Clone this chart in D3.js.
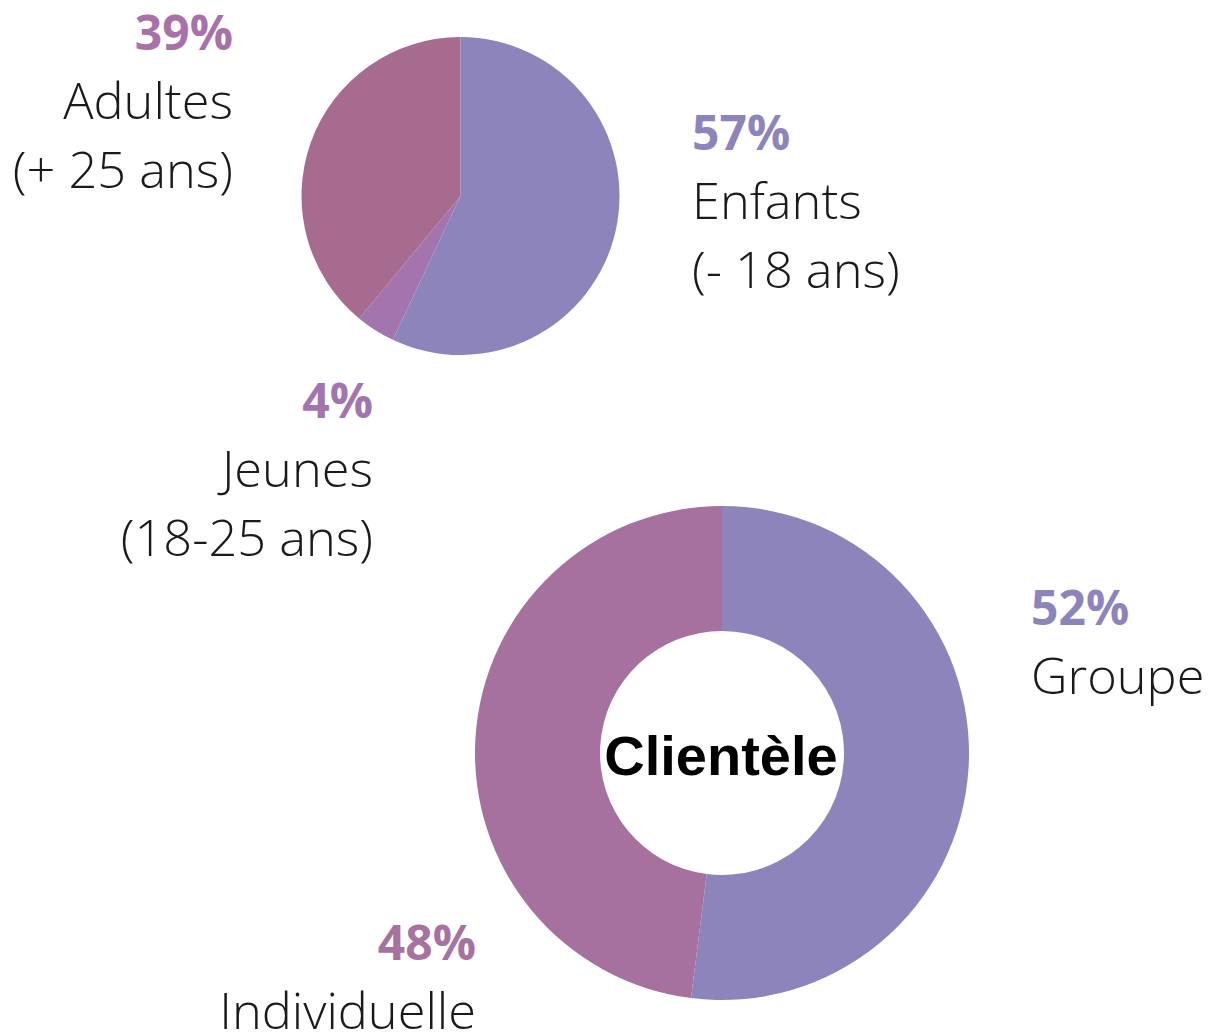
<!DOCTYPE html>
<html>
<head>
<meta charset="utf-8">
<script src="https://cdn.jsdelivr.net/npm/d3@7"></script>
<style>
  html, body { margin: 0; padding: 0; background: #fff; }
  svg { display: block; }
  .pct { font-family: "Open Sans", sans-serif; font-weight: 700; }
  .lbl { font-family: "Open Sans", sans-serif; font-weight: 300; fill: #1a1a1a; }
</style>
</head>
<body>
<div id="chart"></div>
<script>
// age groups (top pie)
const ageNames = ["Enfants", "Jeunes", "Adultes"];
const ageSubs = ["(- 18 ans)", "(18-25 ans)", "(+ 25 ans)"];
const ageValues = [57, 4, 39];
const ageColors = ["#8e84bc", "#a474ae", "#a66b8e"];
const ageTextColors = ["#8e84bc", "#a274b0", "#a872a8"];

// clientele (bottom donut)
const clientNames = ["Groupe", "Individuelle"];
const clientValues = [52, 48];
const clientColors = ["#8e84bc", "#a6709f"];
const clientTextColors = ["#8e84bc", "#a6729f"];
const centerTitle = "Clientèle";

const width = 1219;
const height = 1035;

const svg = d3.select("#chart").append("svg")
              .attr("width", width)
              .attr("height", height);

const pie = d3.pie().sort(null).value(d => d.value);

// label anchors: x, baseline of first line, alignment
const ageLabelPos = [
    {x: 692, y: 150, anchor: "start"},
    {x: 373, y: 418, anchor: "end"},
    {x: 233, y: 50, anchor: "end"}
];
const clientLabelPos = [
    {x: 1031, y: 625, anchor: "start"},
    {x: 476, y: 960, anchor: "end"}
];

const lineGap = 69;

const drawLabels = (g, rows, pos) => {
    rows.forEach((r, i) => {
        const p = pos[i];
        const t = g.append("g").attr("class", "label");
        t.append("text")
         .attr("class", "pct")
         .attr("x", p.x)
         .attr("y", p.y)
         .attr("text-anchor", p.anchor)
         .attr("font-size", 48)
         .attr("fill", r.textColor)
         .text(`${r.value}%`);
        r.lines.forEach((line, j) => {
            t.append("text")
             .attr("class", "lbl")
             .attr("x", p.x)
             .attr("y", p.y + lineGap * (j + 1))
             .attr("text-anchor", p.anchor)
             .attr("font-size", 50.5)
             .text(line);
        });
    });
};

// ---- top pie ----
const ageRows = ageValues.map((v, i) => ({
    value: v,
    color: ageColors[i],
    textColor: ageTextColors[i],
    lines: [ageNames[i], ageSubs[i]]
}));

const pieG = svg.append("g")
                .attr("transform", "translate(460.5, 196)");
const pieArc = d3.arc().innerRadius(0).outerRadius(159);
pieG.selectAll("path")
    .data(pie(ageRows))
    .join("path")
    .attr("d", pieArc)
    .attr("fill", d => d.data.color);

drawLabels(svg.append("g"), ageRows, ageLabelPos);

// ---- bottom donut ----
const clientRows = clientValues.map((v, i) => ({
    value: v,
    color: clientColors[i],
    textColor: clientTextColors[i],
    lines: [clientNames[i]]
}));

const donutG = svg.append("g")
                  .attr("transform", "translate(722, 753)");
const donutArc = d3.arc().innerRadius(122).outerRadius(247);
donutG.selectAll("path")
      .data(pie(clientRows))
      .join("path")
      .attr("d", donutArc)
      .attr("fill", d => d.data.color);

donutG.append("text")
      .attr("x", -1)
      .attr("y", 22)
      .attr("text-anchor", "middle")
      .attr("font-family", "'Liberation Sans', Arial, sans-serif")
      .attr("font-weight", 700)
      .attr("font-size", 56)
      .attr("fill", "#000")
      .text(centerTitle);

drawLabels(svg.append("g"), clientRows, clientLabelPos);
</script>
</body>
</html>
